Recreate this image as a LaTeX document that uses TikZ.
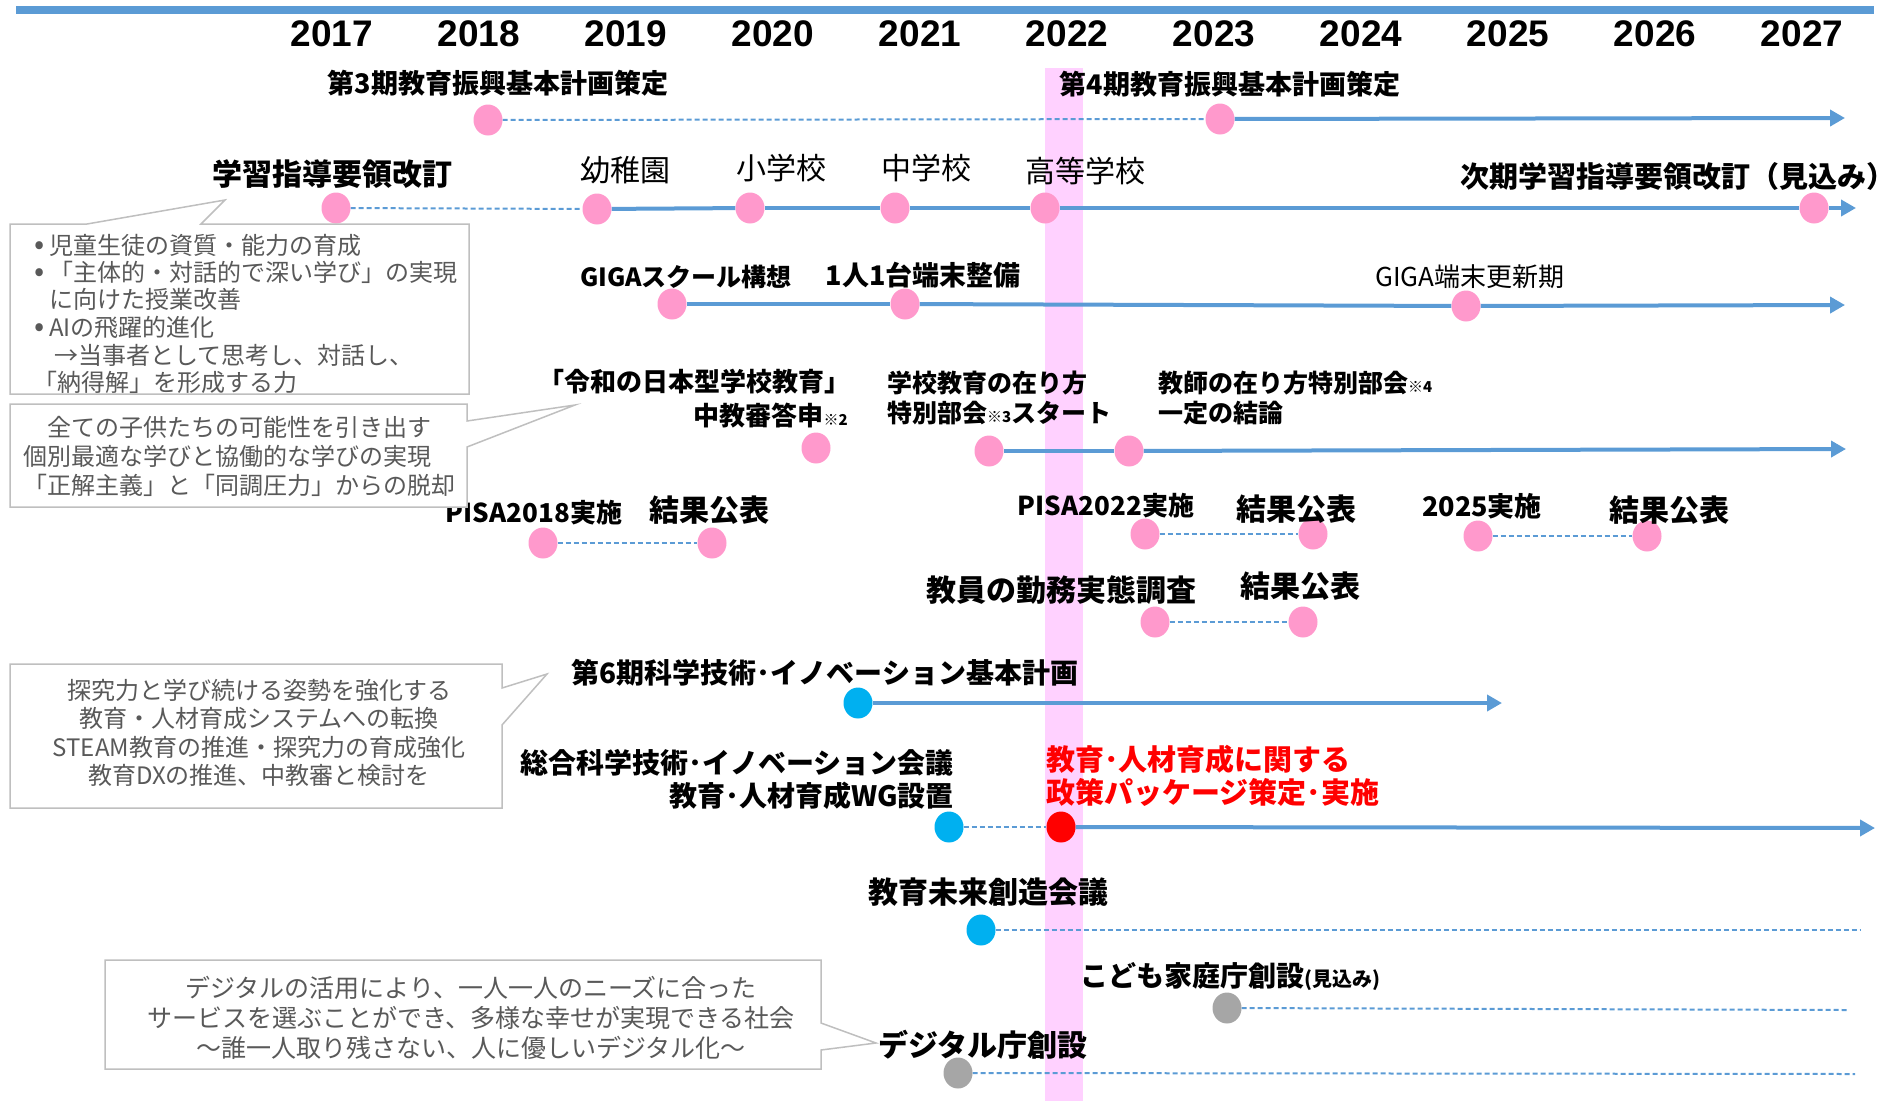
\documentclass[tikz,border=0pt]{standalone}
\usepackage{fontspec}
\setmainfont{Noto Sans CJK JP}
\newfontfamily\yrfont{Liberation Sans}
\usetikzlibrary{arrows.meta,shapes.geometric}
\definecolor{lineblue}{RGB}{91,155,213}
\definecolor{dotpink}{RGB}{255,153,204}
\definecolor{dotblue}{RGB}{0,176,240}
\definecolor{dotgray}{RGB}{166,166,166}
\definecolor{bandpink}{RGB}{255,209,255}
\definecolor{boxgray}{RGB}{191,191,191}
\definecolor{txtgray}{RGB}{89,89,89}
\pgfdeclarelayer{bandlayer}
\pgfdeclarelayer{linelayer}
\pgfsetlayers{bandlayer,linelayer,main}
\begin{document}
\begin{tikzpicture}[x=1pt,y=-1pt,
  evt/.style={ellipse, draw=none, inner sep=0pt, minimum width=29pt, minimum height=31pt},
  pdot/.style={evt, fill=dotpink},
  bdot/.style={evt, fill=dotblue},
  gdot/.style={evt, fill=dotgray},
  rdot/.style={evt, fill=red},
  solidln/.style={draw=lineblue, line width=4pt},
  dashln/.style={draw=lineblue, line width=2pt, dash pattern=on 5pt off 3pt},
  arrowln/.style={solidln, -{Triangle[length=15pt,width=16pt]}},
  yr/.style={inner sep=0pt, font=\yrfont\bfseries\fontsize{37}{40}\selectfont},
  lb/.style={inner sep=0pt, font=\bfseries\fontsize{#1}{#1}\selectfont},
  rg/.style={inner sep=0pt, font=\fontsize{#1}{#1}\selectfont},
  lbm/.style n args={2}{inner sep=0pt, font=\bfseries\fontsize{#1}{#2}\selectfont},
  ctext/.style n args={2}{inner sep=0pt, text=txtgray, font=\fontsize{#1}{#2}\selectfont},
  callbox/.style={draw=boxgray, line width=1.5pt, fill=white, line join=miter}
]
\useasboundingbox (0,0) rectangle (1900,1101);

% top bar and highlight band
\coordinate (barL) at (16,10);
\coordinate (barR) at (1874,10);
\draw[lineblue, line width=8pt] (barL) -- (barR);
\begin{pgfonlayer}{bandlayer}
\fill[bandpink] (1045,68) rectangle (1083,1101);
\end{pgfonlayer}

% years
\foreach \yy [count=\i from 0] in {2017,...,2027}
  \node[yr] (y\yy) at (332+147*\i,33.5) {\yy};

% ---------- dots ----------
% row 1
\node[pdot] (d1a) at (488,120) {};
\node[pdot] (d1b) at (1220,119) {};
\coordinate (a1) at (1845,118);
% row 2
\node[pdot] (d2a) at (336,208) {};
\node[pdot] (d2b) at (597,209) {};
\node[pdot] (d2c) at (750,208) {};
\node[pdot] (d2d) at (895,208) {};
\node[pdot] (d2e) at (1045,208) {};
\node[pdot] (d2f) at (1814,208) {};
\coordinate (a2) at (1856,208);
% row 3
\node[pdot] (d3a) at (672,304) {};
\node[pdot] (d3b) at (905,304) {};
\node[pdot] (d3c) at (1466,306) {};
\coordinate (a3) at (1845,305);
% row 4
\node[pdot] (d4a) at (816,448) {};
\node[pdot] (d4b) at (989,451) {};
\node[pdot] (d4c) at (1129,451) {};
\coordinate (a4) at (1846,449);
% row 5 PISA
\node[pdot] (d5a) at (543,543) {};
\node[pdot] (d5b) at (712,543) {};
\node[pdot] (d5c) at (1145,534) {};
\node[pdot] (d5d) at (1313,534) {};
\node[pdot] (d5e) at (1478,536) {};
\node[pdot] (d5f) at (1647,536) {};
% row 6
\node[pdot] (d6a) at (1155,622) {};
\node[pdot] (d6b) at (1303,622) {};
% row 7
\node[bdot] (d7a) at (858,703) {};
\coordinate (a7) at (1502,703);
% row 8
\node[bdot] (d8a) at (949,827) {};
\node[rdot] (d8b) at (1061,827) {};
\coordinate (a8) at (1875,828);
% row 9
\node[bdot] (d9a) at (981,930) {};
\coordinate (e9) at (1861,930);
% row 10
\node[gdot] (d10a) at (1227,1008) {};
\coordinate (e10) at (1847,1010);
% row 11
\node[gdot] (d11a) at (958,1073) {};
\coordinate (e11) at (1855,1074);

% ---------- connectors (behind dots) ----------
\begin{pgfonlayer}{linelayer}
\draw[dashln] (d1a) -- (d1b);
\draw[arrowln] (d1b) -- (a1);
\draw[dashln] (d2a) -- (d2b);
\draw[solidln] (d2b) -- (d2c);
\draw[solidln] (d2c) -- (d2d);
\draw[solidln] (d2d) -- (d2e);
\draw[solidln] (d2e) -- (d2f);
\draw[arrowln] (d2f) -- (a2);
\draw[solidln] (d3a) -- (d3b);
\draw[solidln] (d3b) -- (d3c);
\draw[arrowln] (d3c) -- (a3);
\draw[solidln] (d4b) -- (d4c);
\draw[arrowln] (d4c) -- (a4);
\draw[dashln] (d5a) -- (d5b);
\draw[dashln] (d5c) -- (d5d);
\draw[dashln] (d5e) -- (d5f);
\draw[dashln] (d6a) -- (d6b);
\draw[arrowln] (d7a) -- (a7);
\draw[dashln] (d8a) -- (d8b);
\draw[arrowln] (d8b) -- (a8);
\draw[dashln] (d9a) -- (e9);
\draw[dashln] (d10a) -- (e10);
\draw[dashln] (d11a) -- (e11);
\end{pgfonlayer}

% ---------- labels ----------
\node[lb=27] (t1a) at (498,83) {第3期教育振興基本計画策定};
\node[lb=27] (t1b) at (1230,84) {第4期教育振興基本計画策定};
\node[lb=30] (t2a) at (332,174) {学習指導要領改訂};
\node[rg=30] (t2b) at (625,170) {幼稚園};
\node[rg=30] (t2c) at (781,168) {小学校};
\node[rg=30] (t2d) at (926,168) {中学校};
\node[rg=30] (t2e) at (1085,171) {高等学校};
\node[lb=29] (t2f) at (1678,176) {次期学習指導要領改訂（見込み）};
\node[lb=25] (t3a) at (686,277) {GIGAスクール構想};
\node[lb=27] (t3b) at (923,275) {1人1台端末整備};
\node[rg=26] (t3c) at (1470,277) {GIGA端末更新期};
\node[lb=26] (t4a) at (694,382) {「令和の日本型学校教育」};
\node[lb=26, anchor=east] (t4b) at (848,416) {中教審答申{\fontsize{15}{15}\selectfont ※2}};
\node[lbm={25}{30}, anchor=west, align=left] (t4c) at (887,398) {学校教育の在り方\\特別部会{\fontsize{15}{15}\selectfont ※3}スタート};
\node[lbm={25}{30}, anchor=west, align=left] (t4d) at (1158,398) {教師の在り方特別部会{\fontsize{15}{15}\selectfont ※4}\\一定の結論};
\node[lb=26] (t5a) at (534,513) {PISA2018実施};
\node[lb=30] (t5b) at (709,510) {結果公表};
\node[lb=26] (t5c) at (1106,506) {PISA2022実施};
\node[lb=30] (t5d) at (1296,509) {結果公表};
\node[lb=27] (t5e) at (1482,506) {2025実施};
\node[lb=30] (t5f) at (1669,510) {結果公表};
\node[lb=30] (t6a) at (1061,590) {教員の勤務実態調査};
\node[lb=30] (t6b) at (1300,586) {結果公表};
\node[lb=28] (t7a) at (825,673) {第6期科学技術･イノベーション基本計画};
\node[lbm={28}{33}, anchor=east, align=right] (t8a) at (954,779) {総合科学技術･イノベーション会議\\教育･人材育成WG設置};
\node[lbm={29}{33}, anchor=west, align=left, text=red] (t8b) at (1046,776) {教育･人材育成に関する\\政策パッケージ策定･実施};
\node[lb=30] (t9a) at (988,892) {教育未来創造会議};
\node[lb=28, anchor=west] (t10a) at (1080,977) {こども家庭庁創設{\fontsize{20}{20}\selectfont (見込み)}};
\node[lb=30] (t11a) at (983,1045) {デジタル庁創設};

% ---------- callouts ----------
\draw[callbox] (10,224) -- (87,224) -- (225,200) -- (201,224) -- (469,224) -- (469,394) -- (10,394) -- cycle;
\node[ctext={24}{24}, anchor=west] (c1a) at (34,245) {\makebox[15pt][l]{\fontsize{30}{30}\selectfont •}児童生徒の資質・能力の育成};
\node[ctext={24}{24}, anchor=west] (c1b) at (34,272) {\makebox[15pt][l]{\fontsize{30}{30}\selectfont •}「主体的・対話的で深い学び」の実現};
\node[ctext={24}{24}, anchor=west] (c1c) at (49,299) {に向けた授業改善};
\node[ctext={24}{24}, anchor=west] (c1d) at (34,327) {\makebox[15pt][l]{\fontsize{30}{30}\selectfont •}AIの飛躍的進化};
\node[ctext={24}{24}, anchor=west] (c1e) at (54,355) {→当事者として思考し、対話し、};
\node[ctext={24}{24}, anchor=west] (c1f) at (33,382) {「納得解」を形成する力};

\draw[callbox] (10,404) -- (467,404) -- (467,421) -- (575,405) -- (467,447) -- (467,507) -- (10,507) -- cycle;
\node[ctext={24}{29}, anchor=west, align=left] (c2) at (23,456) {　全ての子供たちの可能性を引き出す\\個別最適な学びと協働的な学びの実現\\「正解主義」と「同調圧力」からの脱却};

\draw[callbox] (10,664) -- (502,664) -- (502,688) -- (547,674) -- (502,725) -- (502,808) -- (10,808) -- cycle;
\node[ctext={24}{28.3}, align=center] (c3) at (259,733) {探究力と学び続ける姿勢を強化する\\教育・人材育成システムへの転換\\STEAM教育の推進・探究力の育成強化\\教育DXの推進、中教審と検討を};

\draw[callbox] (105,960) -- (821,960) -- (821,1023) -- (876,1043) -- (821,1050) -- (821,1069) -- (105,1069) -- cycle;
\node[ctext={25}{30}, align=center] (c4) at (471,1018) {デジタルの活用により、一人一人のニーズに合った\\サービスを選ぶことができ、多様な幸せが実現できる社会\\～誰一人取り残さない、人に優しいデジタル化～};
\end{tikzpicture}
\end{document}
